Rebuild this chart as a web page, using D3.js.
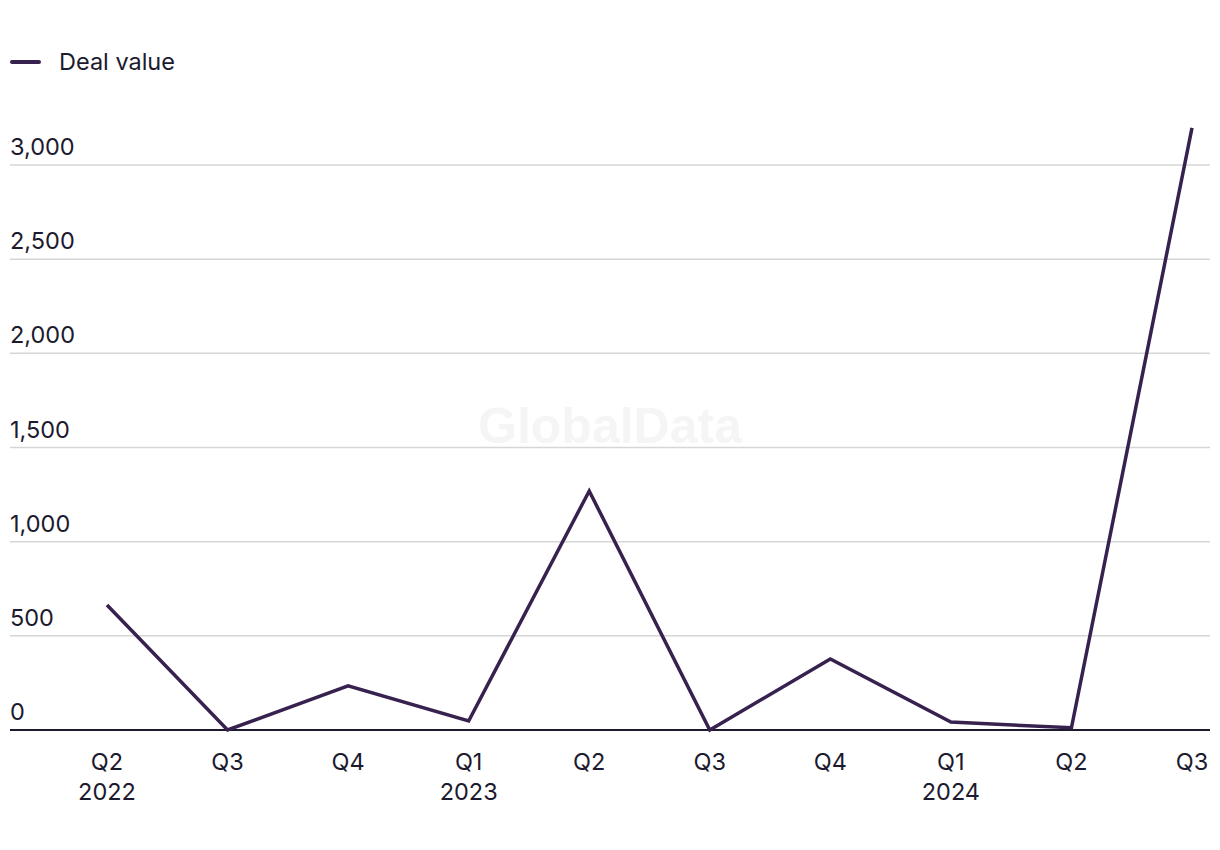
<!DOCTYPE html>
<html>
<head>
<meta charset="utf-8">
<script src="https://cdn.jsdelivr.net/npm/d3@7"></script>
<style>
  body { margin: 0; background: #fff; }
  svg text { font-family: Inter, "Noto Sans", sans-serif; fill: #1c1a2e; }
</style>
</head>
<body>
<svg id="chart" width="1220" height="850"></svg>
<script>
const quarters = ["Q2", "Q3", "Q4", "Q1", "Q2", "Q3", "Q4", "Q1", "Q2", "Q3"]
const years = ["2022", "", "", "2023", "", "", "", "2024", "", ""]
const dealValue = [664, 0, 234, 48, 1269, 0, 377, 42, 12, 3197]
const yTicks = [0, 500, 1000, 1500, 2000, 2500, 3000]

const svg = d3.select("#chart")
const lineColor = "#37224f"
const fontSize = "23.5px"

const plot = {left: 10, right: 1210, top: 120, bottom: 730}
const xStart = 107, xEnd = 1192

const xScale = d3.scaleLinear()
  .domain([0, dealValue.length - 1])
  .range([xStart, xEnd])

const yScale = d3.scaleLinear()
  .domain([0, 3000])
  .range([plot.bottom, 165])

// watermark
svg.append("text")
  .attr("x", 610).attr("y", 443)
  .attr("text-anchor", "middle")
  .style("font-family", "'Liberation Sans', Arial, sans-serif")
  .style("font-weight", "bold")
  .style("font-size", "50px")
  .style("fill", "#f5f5f5")
  .text("GlobalData")

// gridlines + y labels
const grid = svg.append("g").attr("class", "grid")
grid.selectAll("line")
  .data(yTicks.filter(d => d > 0))
  .join("line")
  .attr("x1", plot.left).attr("x2", plot.right)
  .attr("y1", d => yScale(d)).attr("y2", d => yScale(d))
  .attr("stroke", "#d6d6d6").attr("stroke-width", 1.5)

grid.selectAll("text")
  .data(yTicks)
  .join("text")
  .attr("x", plot.left)
  .attr("y", d => yScale(d) - 10)
  .style("font-size", fontSize)
  .text(d => d3.format(",")(d))

// baseline axis
svg.append("line")
  .attr("x1", plot.left).attr("x2", plot.right)
  .attr("y1", yScale(0)).attr("y2", yScale(0))
  .attr("stroke", "#1c1a2e").attr("stroke-width", 2)

// x labels
const xl = svg.append("g").attr("class", "x-labels")
xl.selectAll(".q")
  .data(quarters)
  .join("text")
  .attr("class", "q")
  .attr("x", (d, i) => xScale(i))
  .attr("y", 770)
  .attr("text-anchor", "middle")
  .style("font-size", fontSize)
  .text(d => d)

xl.selectAll(".yr")
  .data(years)
  .join("text")
  .attr("class", "yr")
  .attr("x", (d, i) => xScale(i))
  .attr("y", 800)
  .attr("text-anchor", "middle")
  .style("font-size", fontSize)
  .text(d => d)

// line
const line = d3.line()
  .x((d, i) => xScale(i))
  .y(d => yScale(d))

svg.append("path")
  .datum(dealValue)
  .attr("d", line)
  .attr("fill", "none")
  .attr("stroke", lineColor)
  .attr("stroke-width", 3.5)
  .attr("stroke-linejoin", "miter")

// legend
const legend = svg.append("g").attr("class", "legend")
legend.append("line")
  .attr("x1", 12).attr("x2", 39)
  .attr("y1", 62).attr("y2", 62)
  .attr("stroke", lineColor).attr("stroke-width", 4)
  .attr("stroke-linecap", "round")
legend.append("text")
  .attr("x", 59).attr("y", 70)
  .style("font-size", fontSize)
  .text("Deal value")
</script>
</body>
</html>
